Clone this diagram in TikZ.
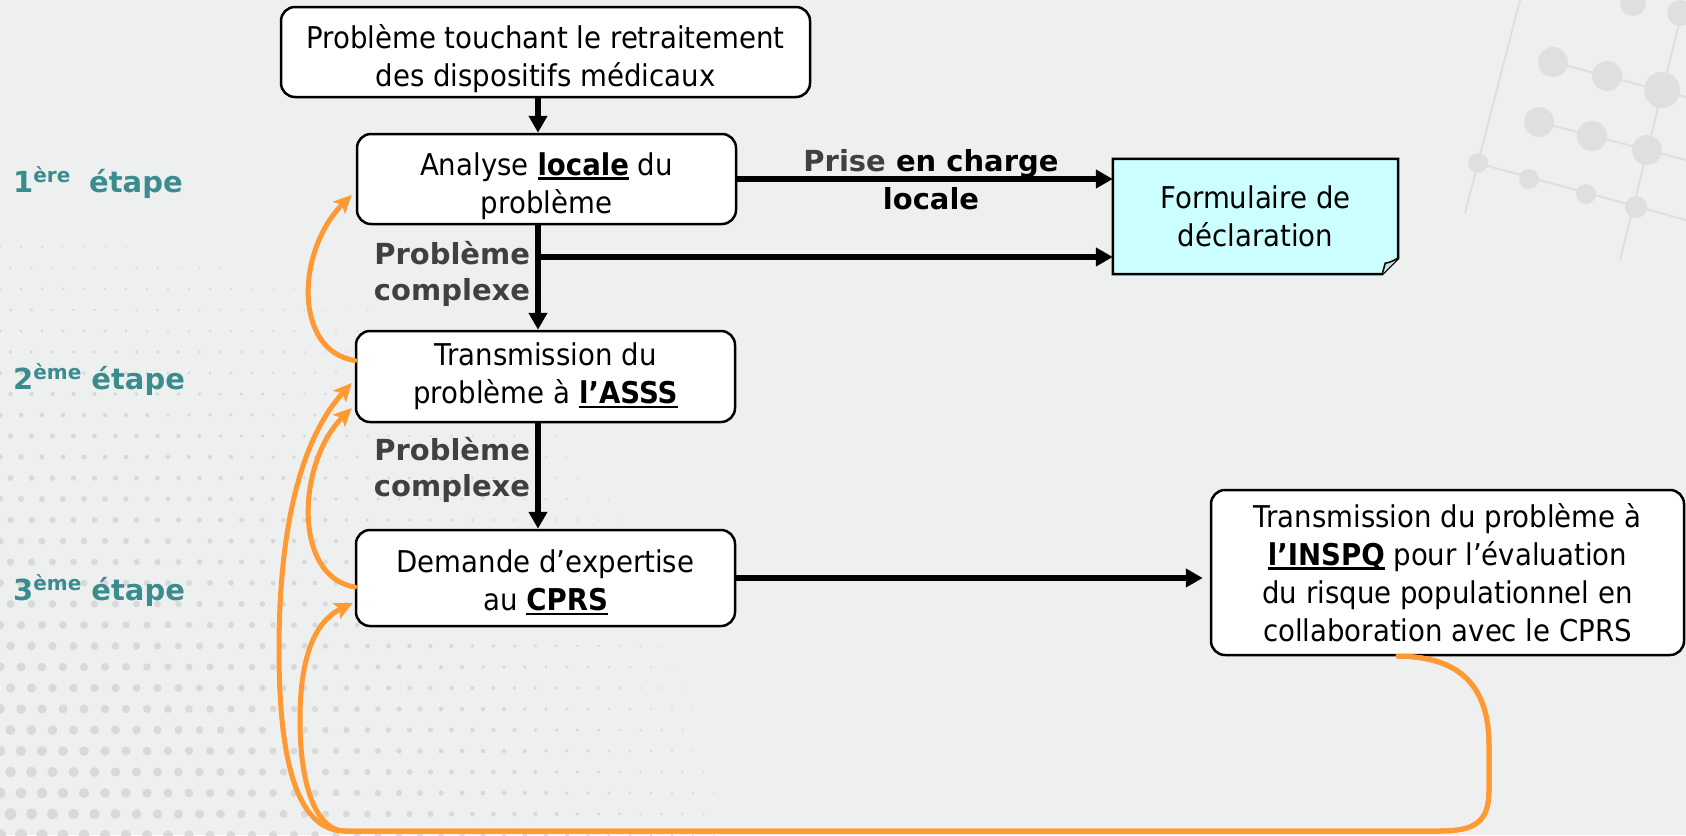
\documentclass[tikz,border=0pt]{standalone}
\usepackage{fontspec}
\setmainfont{DejaVu Sans}[FakeStretch=0.92]
\newfontfamily\lblfont{DejaVu Sans}
\usetikzlibrary{arrows.meta,calc}
\definecolor{bgc}{RGB}{238,240,239}
\definecolor{dotc}{RGB}{216,218,218}
\definecolor{molc}{RGB}{222,224,224}
\definecolor{orng}{RGB}{255,153,51}
\definecolor{tealc}{RGB}{58,140,143}
\definecolor{dgray}{RGB}{64,64,64}
\definecolor{cyanf}{RGB}{204,255,255}
\newcommand{\ulthick}[1]{\setbox0=\hbox{#1}\rlap{\rule[-4.5pt]{\wd0}{2.6pt}}\box0\relax}
\newcommand{\stsup}[1]{\raisebox{10pt}{\fontsize{20}{20}\selectfont #1}}
\newcommand{\liftA}{\rule{0pt}{37pt}}
\newcommand{\liftB}{\rule{0pt}{32pt}}
\begin{document}
\begin{tikzpicture}[x=1pt,y=-1pt,
  box/.style={draw=black, line width=2.5pt, rounded corners=14pt, fill=white, align=center, inner sep=0pt, font=\fontsize{30}{38}\selectfont},
  blk/.style={line width=6pt, -{Triangle[length=17pt,width=18pt]}},
  org/.style={draw=orng, line width=5pt, line cap=round, -{Stealth[length=18pt,width=17pt,inset=4pt]}},
  lbl/.style={font=\lblfont\bfseries\fontsize{29}{36}\selectfont, text=dgray, align=right, inner sep=0pt},
  stage/.style={font=\lblfont\bfseries\fontsize{29}{36}\selectfont, text=tealc, anchor=west, inner sep=0pt}
]
\useasboundingbox (0,0) rectangle (1686,835);
\fill[bgc] (0,0) rectangle (1686,835);
% halftone dots
\foreach \i in {0,...,40} {
  \foreach \j in {0,...,30} {
    \pgfmathsetmacro\xx{\i*21+mod(\j,2)*10.5}
    \pgfmathsetmacro\yy{835-\j*21}
    \pgfmathsetmacro\rr{6*(1-\xx/850)*(1-\j/34)}
    \ifdim\rr pt>0.9pt \fill[dotc] (\xx,\yy) circle[radius=\rr pt];\fi
  }
}
% molecule decoration
\begin{scope}[molc, line width=2pt]
  \draw (1520,0) -- (1465,213);
  \draw (1680,20) -- (1620,260);
  \draw (1477,163) -- (1686,220);
  \draw (1553,62) -- (1686,97);
  \draw (1539,122) -- (1686,160);
  \fill (1553,62) circle[radius=15pt];
  \fill (1607,76) circle[radius=15pt];
  \fill (1662,90) circle[radius=18pt];
  \fill (1539,122) circle[radius=15pt];
  \fill (1592,136) circle[radius=15pt];
  \fill (1647,150) circle[radius=15pt];
  \fill (1478,163) circle[radius=10pt];
  \fill (1529,179) circle[radius=10pt];
  \fill (1586,194) circle[radius=10pt];
  \fill (1636,207) circle[radius=11pt];
  \fill (1633,3) circle[radius=13pt];
  \fill (1680,13) circle[radius=13pt];
\end{scope}

% boxes
\node[box, minimum width=529pt, minimum height=90pt] (top) at (545.5,52) {\liftA Problème touchant le retraitement\\des dispositifs médicaux};
\node[box, minimum width=379pt, minimum height=90pt] (ana) at (546.5,179) {\liftA Analyse \ulthick{\textbf{locale}} du\\problème};
\node[box, minimum width=379pt, minimum height=91pt] (trans) at (545.5,376.5) {Transmission du\\problème à \ulthick{\textbf{l’ASSS}}};
\node[box, minimum width=379pt, minimum height=96pt] (dem) at (545.5,578) {\liftB Demande d’expertise\\au \ulthick{\textbf{CPRS}}};
\node[box, minimum width=473pt, minimum height=165pt] (inspq) at (1447.5,572.5) {Transmission du problème à\\\ulthick{\textbf{l’INSPQ}} pour l’évaluation\\du risque populationnel en\\collaboration avec le CPRS};

% formulaire (note shape)
\node[minimum width=285pt, minimum height=115pt, inner sep=0pt] (form) at (1255.5,216.5) {};
\filldraw[fill=cyanf, draw=black, line width=2.5pt] (form.north west) -- (form.north east) -- ($(form.south east)+(0,-16)$) -- ($(form.south east)+(-16,0)$) -- (form.south west) -- cycle;
\draw[line width=1.5pt, fill=cyanf!80!black!60] ($(form.south east)+(0,-16)$) .. controls ($(form.south east)+(-8,-12)$) .. ($(form.south east)+(-13,-11)$) -- ($(form.south east)+(-16,0)$);
\node[align=center, inner sep=0pt, font=\fontsize{30}{38}\selectfont] (formtxt) at (form.center) {Formulaire de\\déclaration};

% labels
\node[lbl] (pc1) at (452,274) {Problème\\complexe};
\node[lbl] (pc2) at (452,470) {Problème\\complexe};
\node[align=center, inner sep=0pt, font=\lblfont\bfseries\fontsize{29}{38}\selectfont] (prise) at (931,180) {\textcolor{dgray}{Prise} en charge\\locale};
\node[stage] (st1) at (13,183) {1\stsup{ère}\hspace{0.3em} étape};
\node[stage] (st2) at (13,380) {2\stsup{ème} étape};
\node[stage] (st3) at (13,591) {3\stsup{ème} étape};

% black arrows
\coordinate (ax) at (538,0);
\coordinate (j1) at (538,257);
\draw[blk] (ax |- top.south) -- (ax |- ana.north);
\draw[blk] (ax |- ana.south) -- (ax |- trans.north);
\draw[blk] (ax |- trans.south) -- (ax |- dem.north);
\draw[blk] (ana.east) -- (ana.east -| form.west);
\draw[blk] (j1) -- (j1 -| form.west);
\draw[blk] (dem.east) -- ($(dem.east -| inspq.west)+(-7,0)$);

% orange feedback arrows
\coordinate (o1s) at ($(trans.west)+(0,-16)$);
\coordinate (o1e) at ($(ana.west)+(-4,16)$);
\coordinate (o2s) at ($(dem.west)+(0,9)$);
\coordinate (o2e) at ($(trans.west)+(-3,31.5)$);
\coordinate (o3e) at ($(trans.west)+(-3,6.5)$);
\coordinate (o4e) at ($(dem.west)+(-2,25)$);
\coordinate (lp) at ($(inspq.south)+(-49.5,0)$);
\draw[org] (o1s) .. controls +(-62,-10) and +(-55,55) .. (o1e);
\draw[org] (o2s) .. controls +(-62,-10) and +(-55,55) .. (o2e);
\draw[org] (lp) .. controls +(70,0) and +(0,-50) .. (1489,745) -- (1489,790) .. controls (1489,822) and (1475,831) .. (1440,831) -- (345,831) .. controls (300,831) and (279,770) .. (279,650) .. controls (279,530) and (300,440) .. (o3e);
\draw[org] (lp) .. controls +(70,0) and +(0,-50) .. (1489,745) -- (1489,790) .. controls (1489,822) and (1475,831) .. (1440,831) -- (345,831) .. controls (318,831) and (300,790) .. (300,720) .. controls (300,650) and (318,620) .. (o4e);
\end{tikzpicture}
\end{document}
